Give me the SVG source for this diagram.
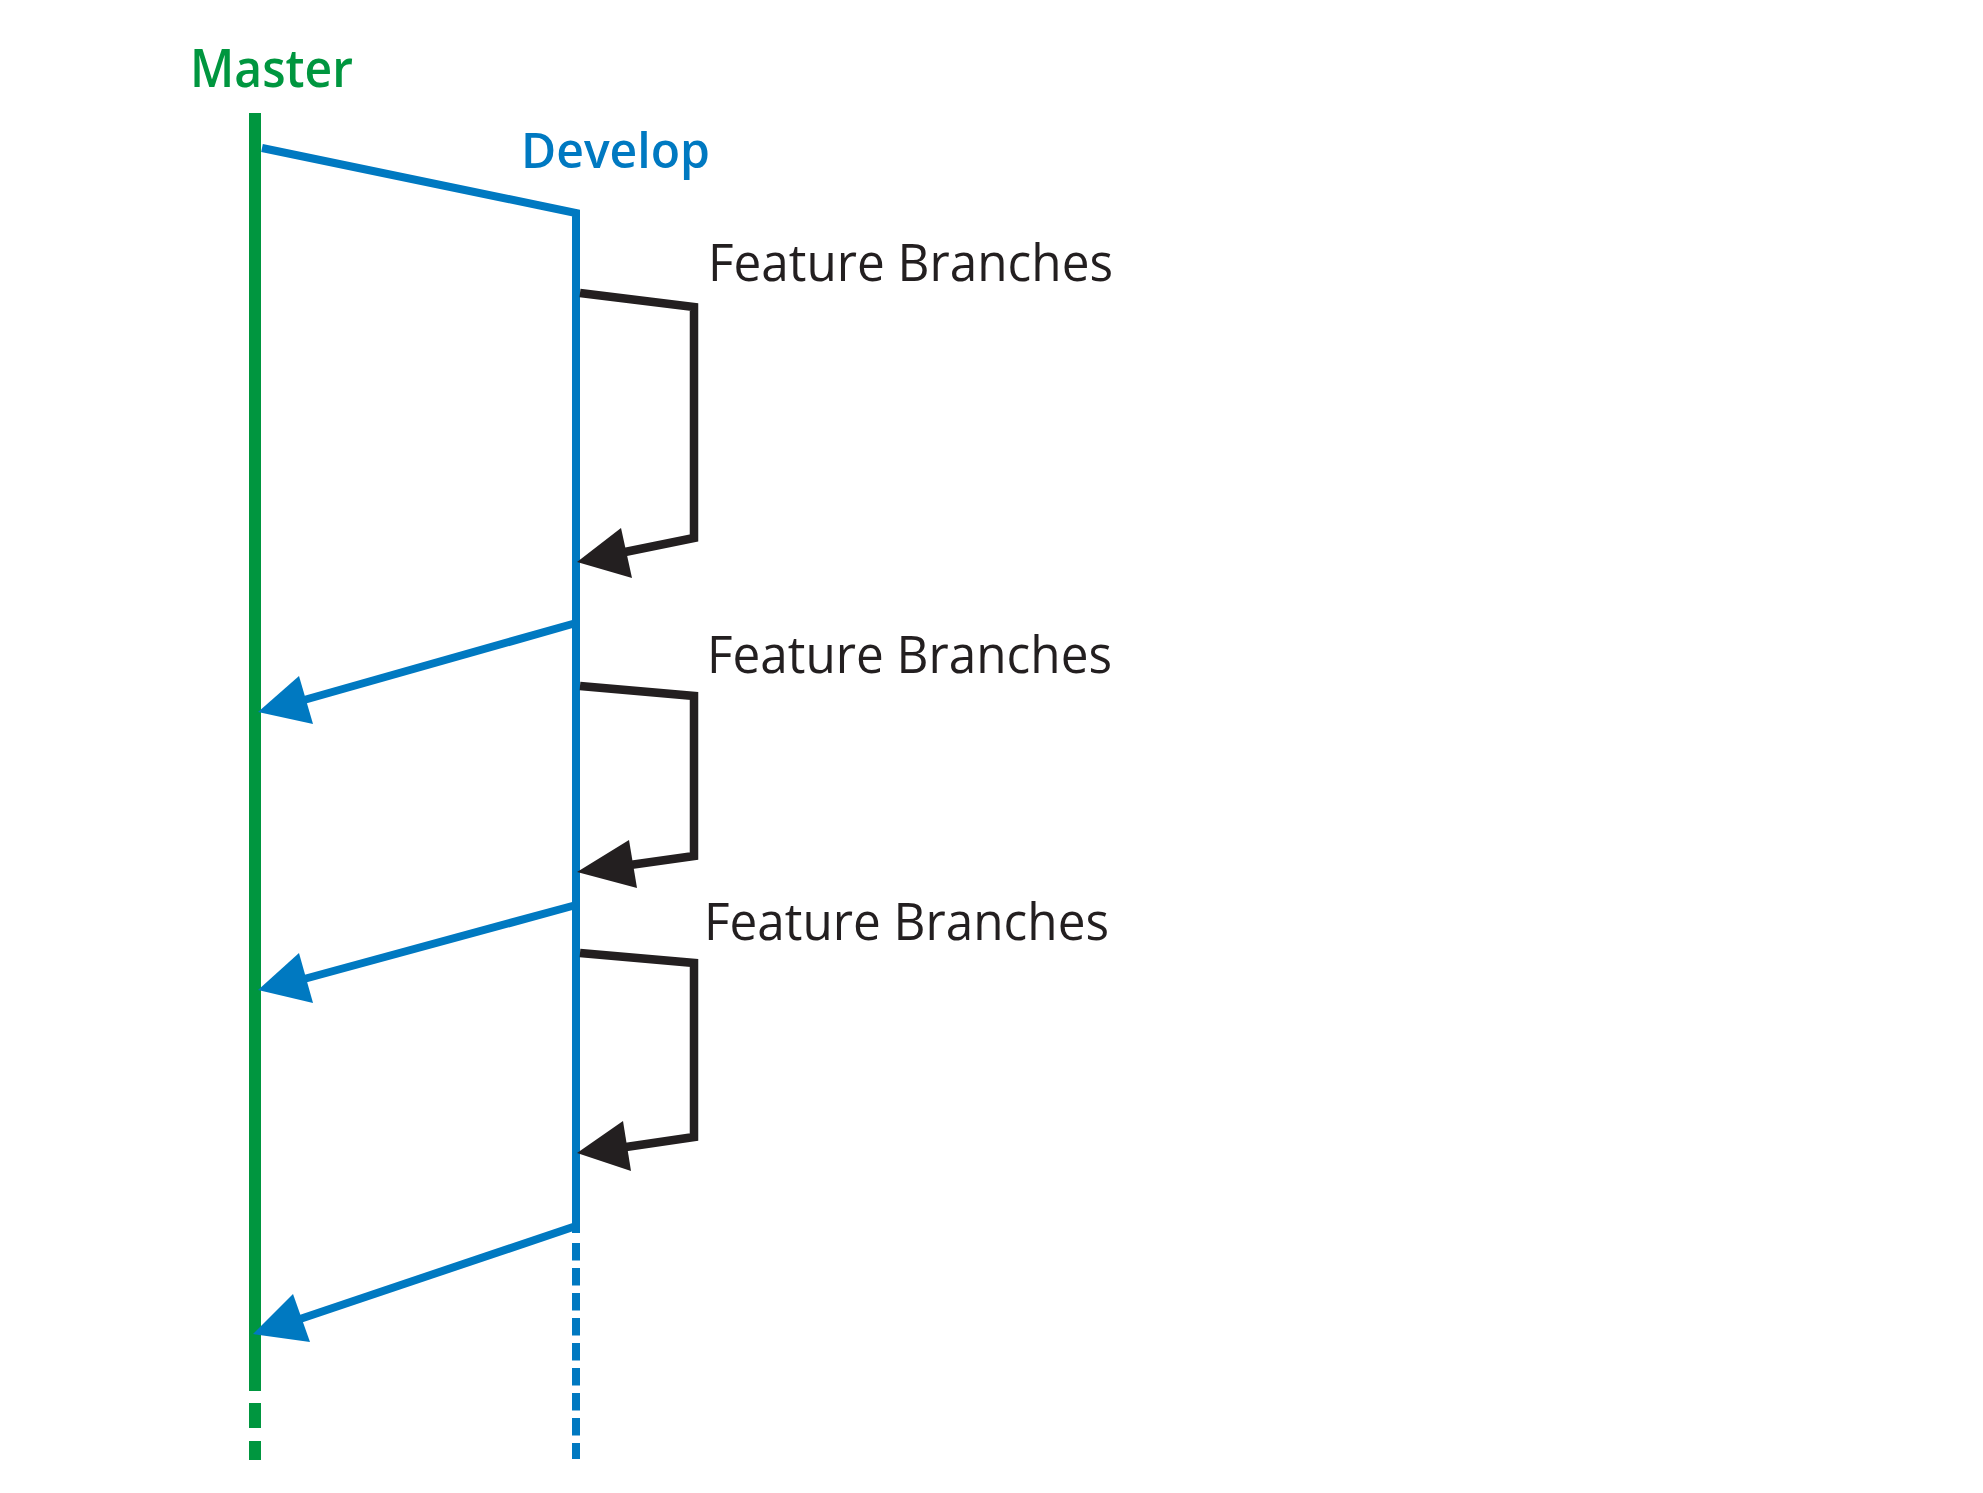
<svg xmlns="http://www.w3.org/2000/svg" width="1983" height="1493" viewBox="0 0 1983 1493">
<style>
.lbl{font-family:"Open Sans","Noto Sans","Liberation Sans",sans-serif;}
.master{fill:#00963F;font-weight:600;font-size:53px;}
.develop{fill:#0079C1;font-weight:600;font-size:49px;}
.feat{fill:#231F20;font-size:51px;}
.g{stroke:#00963F;stroke-width:12;fill:none;}
.b{stroke:#0079C1;stroke-width:8;fill:none;stroke-linejoin:miter;}
.k{stroke:#231F20;stroke-width:8.5;fill:none;stroke-linejoin:miter;}
.bh{fill:#0079C1;}
.kh{fill:#231F20;}
</style>
<rect width="1983" height="1493" fill="#ffffff"/>
<g id="master">
  <text class="lbl master" x="190" y="87" textLength="163" lengthAdjust="spacingAndGlyphs">Master</text>
  <line class="g" x1="255" y1="113" x2="255" y2="1391"/>
  <line class="g" x1="255" y1="1403" x2="255" y2="1428"/>
  <line class="g" x1="255" y1="1441" x2="255" y2="1460"/>
</g>
<g id="develop">
  <text class="lbl develop" x="521" y="168" textLength="189" lengthAdjust="spacingAndGlyphs">Develop</text>
  <path class="b" d="M262 148 L576 213 L576 1233"/>
  <line class="b" x1="576" y1="1243" x2="576" y2="1459" stroke-dasharray="17.5 7.5"/>
</g>
<g id="feature1">
  <text class="lbl feat" x="708" y="281" textLength="405" lengthAdjust="spacingAndGlyphs">Feature Branches</text>
</g>
<g id="feature2">
  <text class="lbl feat" x="707" y="673" textLength="405" lengthAdjust="spacingAndGlyphs">Feature Branches</text>
</g>
<g id="feature3">
  <text class="lbl feat" x="704" y="940" textLength="405" lengthAdjust="spacingAndGlyphs">Feature Branches</text>
</g>
<g id="connectors">
  <path class="k" d="M580 293 L694 307 L694 538 L625 552"/>
  <polygon class="kh" points="577,562 621,528 632,578"/>
  <path class="k" d="M580 686 L694 696 L694 856 L630 865"/>
  <polygon class="kh" points="577,872 629,840 637,888"/>
  <path class="k" d="M580 953 L694 963 L694 1137 L626 1147"/>
  <polygon class="kh" points="577,1153 623,1121 631,1171"/>
  <line class="b" x1="576" y1="623" x2="304" y2="700"/>
  <polygon class="bh" points="258,712 299,676 313,724"/>
  <line class="b" x1="576" y1="905" x2="304" y2="979"/>
  <polygon class="bh" points="258,990 299,953 313,1003"/>
  <line class="b" x1="576" y1="1226" x2="300" y2="1319"/>
  <polygon class="bh" points="253,1334 293,1294 310,1342"/>
</g>
</svg>
